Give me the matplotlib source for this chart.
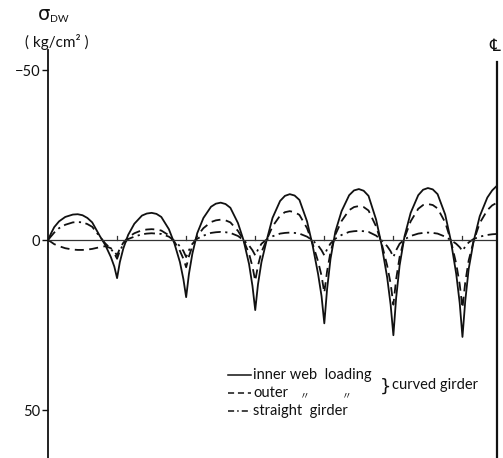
import matplotlib
matplotlib.use("Agg")
import matplotlib.pyplot as plt
from matplotlib.lines import Line2D

# Web bending stress sigma_DW along the girder (kg/cm^2); supports at integer
# positions, centre line of the girder at 6.5.
SPAN_OFFSETS = [0.04, 0.09, 0.16, 0.25, 0.36, 0.43, 0.50, 0.57, 0.64, 0.75, 0.83, 0.91, 0.96]

inner_support = [0.0, 11.2, 16.8, 20.6, 24.5, 28.0, 28.5]
inner_spans = [
    [-1.8, -3.8, -5.5, -6.8, -7.5, -7.6, -7.3, -6.5, -5.2, -1.2, 1.5, 5.0, 7.8],
    [6.5, 2.5, -1.5, -4.8, -7.2, -7.8, -8.0, -7.7, -6.8, -3.2, 1.0, 6.5, 11.5],
    [10.0, 4.0, -2.0, -6.5, -9.8, -10.7, -11.0, -10.6, -9.5, -5.0, 0.0, 7.0, 13.5],
    [13.0, 6.5, 0.5, -6.5, -11.5, -13.0, -13.5, -13.1, -11.8, -5.5, 1.5, 10.0, 16.5],
    [14.5, 5.5, -2.5, -8.5, -13.2, -14.6, -15.0, -14.5, -13.0, -6.0, 1.5, 11.0, 19.0],
    [17.0, 7.5, -1.0, -8.0, -13.2, -14.8, -15.3, -14.9, -13.5, -7.5, 0.0, 10.0, 18.5],
    [18.0, 8.5, 0.5, -7.0, -12.5, -14.6, -16.0],
]

outer_support = [0.0, 4.5, 8.0, 12.0, 15.5, 19.0, 20.0]
outer_spans = [
    [0.5, 1.2, 1.8, 2.4, 2.8, 2.9, 2.9, 2.8, 2.6, 2.1, 1.8, 2.4, 3.3],
    [2.5, 0.8, -0.8, -2.0, -2.9, -3.1, -3.2, -3.1, -2.8, -1.4, 0.5, 3.2, 5.5],
    [4.8, 1.8, -1.2, -3.5, -5.3, -5.8, -6.0, -5.8, -5.2, -2.7, 0.0, 4.0, 7.8],
    [7.5, 3.5, 0.2, -4.0, -7.2, -8.2, -8.5, -8.2, -7.4, -3.5, 1.0, 6.3, 10.5],
    [9.2, 3.5, -1.6, -5.6, -8.8, -9.7, -10.0, -9.7, -8.7, -4.0, 1.0, 7.5, 12.8],
    [11.5, 5.0, -0.6, -5.5, -9.2, -10.3, -10.6, -10.3, -9.3, -5.2, 0.0, 7.0, 13.0],
    [12.5, 6.0, 0.4, -5.0, -8.8, -10.2, -11.0],
]

straight_support = [0.0, 5.5, 5.0, 4.5, 4.5, 5.0, 3.2]
straight_spans = [
    [-1.0, -2.2, -3.5, -4.5, -5.2, -5.3, -5.2, -4.7, -3.9, -1.0, 1.0, 2.6, 3.9],
    [3.2, 1.2, -0.3, -1.0, -1.7, -1.9, -2.0, -1.9, -1.8, -1.0, 0.2, 1.8, 3.2],
    [3.0, 1.1, -0.4, -1.3, -2.1, -2.3, -2.4, -2.3, -2.1, -1.2, 0.0, 1.6, 3.0],
    [2.8, 1.1, -0.1, -1.1, -1.9, -2.1, -2.2, -2.1, -1.9, -1.0, 0.1, 1.6, 3.0],
    [2.7, 1.0, -0.4, -1.5, -2.4, -2.6, -2.7, -2.6, -2.4, -1.3, 0.1, 1.8, 3.3],
    [3.0, 1.1, -0.2, -1.2, -1.9, -2.1, -2.2, -2.1, -1.9, -1.0, 0.0, 1.1, 2.1],
    [1.9, 0.7, -0.3, -1.0, -1.5, -1.7, -1.8],
]

y_ticks = [-50, 0, 50]
y_tick_labels = ["\u221250", "0", "50"]
support_positions = [1, 2, 3, 4, 5, 6]
centre_line = 6.5

W, H = 503, 458
plt.rcParams["font.family"] = ["Lato", "DejaVu Sans"]

fig = plt.figure(figsize=(W / 100, H / 100), dpi=100)
ax = fig.add_axes([48 / W, 0, (497 - 48) / W, (458 - 50) / H])
ax.set_xlim(0, centre_line)
ax.set_ylim(64.1, -55.9)


def build(support, spans):
    xs, ys = [], []
    for k, row in enumerate(spans):
        xs.append(k)
        ys.append(support[k])
        for off, v in zip(SPAN_OFFSETS, row):
            xs.append(k + off)
            ys.append(v)
    return xs, ys


ink = "#111111"
for support, spans, style in [
    (inner_support, inner_spans, dict(linestyle="-")),
    (outer_support, outer_spans, dict(dashes=(5, 3))),
    (straight_support, straight_spans, dict(dashes=(6, 2.5, 1.2, 2.5))),
]:
    xs, ys = build(support, spans)
    ax.plot(xs, ys, color=ink, lw=1.3, solid_joinstyle="round", **style)

# zero line with small support marks
ax.axhline(0, color="#333333", lw=0.9)
for s in support_positions:
    ax.plot([s, s], [0, -1.2], color="#333333", lw=0.9)

# centre line
ax.plot([centre_line, centre_line], [-52.4, 64.1], color=ink, lw=1.6, clip_on=False)
fig.text(495 / W, 1 - 46 / H, "\u2104", ha="center", va="center", fontsize=12,
         family=["DejaVu Sans", "Noto Sans CJK JP"], color=ink)

for side in ["top", "right", "bottom"]:
    ax.spines[side].set_visible(False)
ax.spines["left"].set_linewidth(1.3)
ax.spines["left"].set_color(ink)
ax.set_xticks([])
ax.set_yticks(y_ticks)
ax.set_yticklabels(y_tick_labels)
ax.tick_params(axis="y", direction="out", length=4, width=1, pad=1.5,
               labelsize=10.5, colors=ink)

# axis title
fig.text(44 / W, 1 - 15 / H, "\u03c3", ha="center", va="center", fontsize=14,
         family=["DejaVu Sans"], color=ink)
fig.text(50 / W, 1 - 19 / H, "DW", ha="left", va="center", fontsize=7.5, color=ink)
fig.text(57 / W, 1 - 42 / H, "( kg/cm\u00b2 )", ha="center", va="center", fontsize=11, color=ink)

# legend
def fx(px):
    return px / W


def fy(py):
    return 1 - py / H


legend_rows = [
    (375, dict(linestyle="-"), "inner web  loading"),
    (393, dict(dashes=(4, 2.5)), "outer"),
    (411, dict(dashes=(4, 2, 1, 2)), "straight  girder"),
]
for py, style, label in legend_rows:
    fig.add_artist(Line2D([fx(228), fx(251)], [fy(py), fy(py)], color=ink, lw=1.1, **style))
    fig.text(fx(253), fy(py), label, ha="left", va="center", fontsize=10.5, color=ink)

for px in (305, 347):
    fig.text(fx(px), fy(395), "\u3003", ha="center", va="center", fontsize=7,
             family=["Noto Sans CJK JP", "DejaVu Sans"], color=ink)

fig.text(fx(385), fy(387), "}", ha="center", va="center", fontsize=13,
         family=["DejaVu Sans"], color=ink)
fig.text(fx(392), fy(385), "curved girder", ha="left", va="center", fontsize=10.5, color=ink)

fig.savefig("out.png", dpi=100, facecolor="white")
